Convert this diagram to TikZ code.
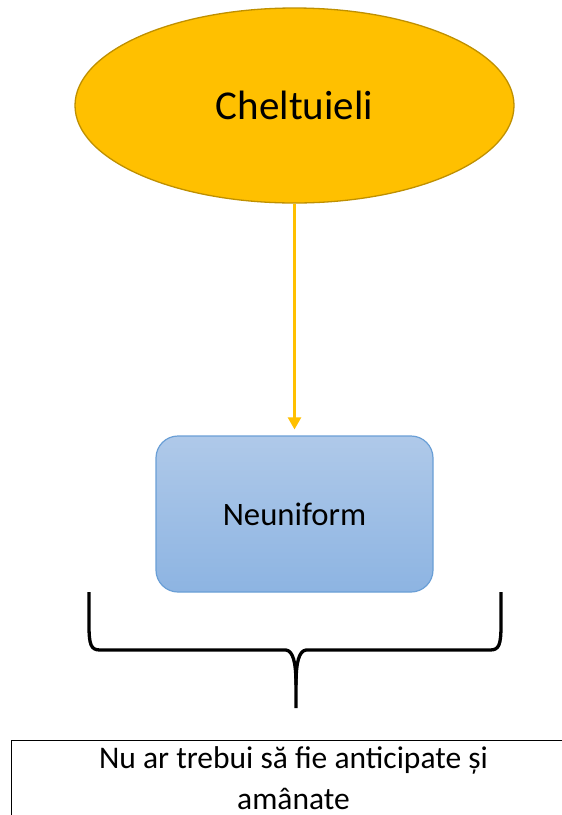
\documentclass[tikz,border=0pt]{standalone}
\usepackage{fontspec}
\setmainfont{Carlito}
\usetikzlibrary{arrows.meta,shapes.geometric}
\definecolor{gold}{HTML}{FFC000}
\definecolor{goldline}{HTML}{BF9000}
\definecolor{bluetop}{HTML}{AFC9E9}
\definecolor{bluebot}{HTML}{8DB4E2}
\definecolor{blueline}{HTML}{6A9FD6}
\tikzset{
  ellipsebox/.style={ellipse, draw=goldline, line width=1.3pt, fill=gold,
    minimum width=439pt, minimum height=195pt, inner sep=0pt,
    font=\fontsize{41}{48}\selectfont},
  roundbox/.style={rectangle, rounded corners=22pt, draw=blueline, line width=1.2pt,
    top color=bluetop, bottom color=bluebot,
    minimum width=277pt, minimum height=156pt, inner sep=0pt,
    font=\fontsize{32.7}{38}\selectfont},
  yellowarrow/.style={draw=gold, line width=2.3pt,
    -{Triangle[width=13pt,length=12pt]}, shorten >=6pt},
  bracestroke/.style={draw=black, line width=3.3pt},
  framebox/.style={draw=black, line width=1pt},
  notetext/.style={align=flush center, text width=540pt, inner sep=0pt,
    font=\fontsize{31.5}{40.8}\selectfont}
}
\begin{document}
\begin{tikzpicture}[x=1pt,y=-1pt]
\clip (0,0) rectangle (562,815);
\fill[white] (0,0) rectangle (562,815);
% ellipse
\node[ellipsebox] (ell) at (294.5,105.5) {Cheltuieli};
% rounded box
\node[roundbox] (box) at (294.5,514) {Neuniform};
% arrow
\draw[yellowarrow] (ell.south) -- (ell.south |- box.north);
% brace
\coordinate (bl) at (89,592);
\coordinate (br) at (501,592);
\coordinate (bt) at (296,708);
\draw[bracestroke, line join=round]
  (bl) -- (89,625) .. controls (89,645) and (91,650) .. (100,650)
  -- (286,650) .. controls (293,651) and (296,662) .. (296,685) -- (bt);
\draw[bracestroke, line join=round]
  (br) -- (501,625) .. controls (501,645) and (499,650) .. (490,650)
  -- (306,650) .. controls (299,651) and (296,662) .. (296,685);
% bottom frame
\node[framebox, rectangle, anchor=north west, minimum width=600pt, minimum height=120pt, inner sep=0pt] (frame) at (11,740) {};
\node[notetext, anchor=base] (note) at (293.5,768.5) {Nu ar trebui să fie anticipate și\\amânate};
\end{tikzpicture}
\end{document}
